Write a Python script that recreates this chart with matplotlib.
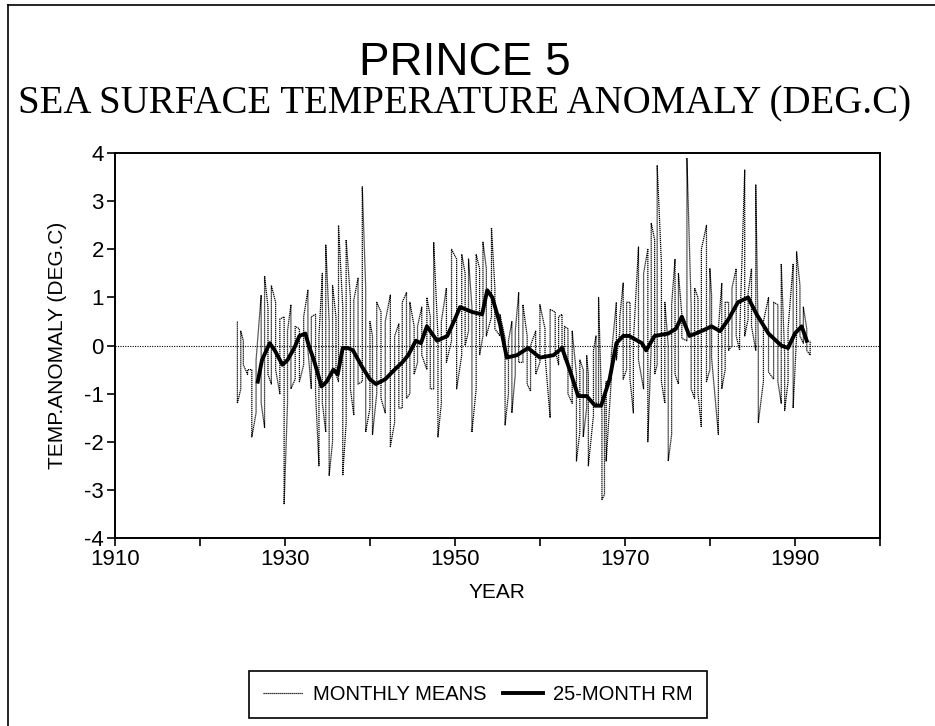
import numpy as np
import matplotlib
matplotlib.use("Agg")
import matplotlib.pyplot as plt
from matplotlib.lines import Line2D

plt.rcParams['font.family'] = ['Liberation Sans', 'DejaVu Sans']
plt.rcParams['axes.unicode_minus'] = False

# monthly means: year of each spike, its top and bottom value
mm_year = [1924.4, 1924.8, 1925.1, 1925.6, 1926.1, 1926.6, 1927.2, 1927.6, 1928.0, 1928.4,
           1928.9, 1929.4, 1929.9, 1930.3, 1930.7, 1931.2, 1931.7, 1932.2, 1932.7, 1933.1,
           1933.6, 1934.0, 1934.4, 1934.8, 1935.2, 1935.6, 1936.0, 1936.3, 1936.8, 1937.2,
           1937.7, 1938.1, 1938.6, 1939.1, 1939.5, 1940.0, 1940.3, 1940.8, 1941.3, 1941.8,
           1942.4, 1942.9, 1943.4, 1943.8, 1944.3, 1944.7, 1945.2, 1945.6, 1946.1, 1946.7,
           1947.1, 1947.5, 1948.0, 1948.4, 1949.0, 1949.6, 1950.2, 1950.8, 1951.2, 1951.6,
           1952.0, 1952.5, 1952.9, 1953.3, 1953.7, 1954.3, 1954.7, 1955.3, 1955.9, 1956.3,
           1956.7, 1957.1, 1957.5, 1958.0, 1958.5, 1958.9, 1959.5, 1960.0, 1960.6, 1961.2,
           1961.8, 1962.2, 1962.6, 1962.9, 1963.3, 1963.8, 1964.3, 1964.7, 1965.1, 1965.5,
           1965.7, 1966.3, 1966.6, 1966.9, 1967.3, 1967.6, 1967.8, 1968.4, 1969.0, 1969.4,
           1969.8, 1970.2, 1970.6, 1971.0, 1971.6, 1972.2, 1972.7, 1973.1, 1973.5, 1973.8,
           1974.3, 1974.7, 1975.1, 1975.5, 1975.9, 1976.3, 1976.7, 1977.3, 1977.8, 1978.2,
           1978.6, 1979.0, 1979.6, 1980.0, 1980.2, 1981.0, 1981.4, 1981.8, 1982.2, 1982.6,
           1983.1, 1983.5, 1984.1, 1984.5, 1984.9, 1985.4, 1985.7, 1986.3, 1986.9, 1987.5,
           1988.0, 1988.4, 1988.8, 1989.2, 1989.8, 1990.2, 1990.6, 1991.0, 1991.4, 1991.8]
mm_hi = [0.5, 0.3, 0.1, -0.5, -0.5, -0.3, 1.05, 1.45, 0.8, 1.25,
         0.9, 0.55, 0.6, 0.3, 0.85, 0.4, 0.35, 0.6, 1.15, 0.6,
         0.65, 0.2, 1.5, 2.1, 0.5, 1.25, 0.6, 2.5, 0.8, 2.2,
         1.0, 0.95, 1.4, 3.3, 1.2, 0.5, 0.2, 0.9, 0.7, 0.5,
         1.05, 0.2, 0.45, 0.9, 1.1, 0.9, 0.4, 0.4, 0.8, 1.0,
         0.6, 2.15, 0.2, 0.5, 1.2, 2.0, 1.8, 1.9, 1.5, 1.8,
         0.8, 1.9, 1.6, 2.15, 1.6, 2.45, 1.2, 0.65, 0.15, 0.1,
         0.5, 0.3, 1.1, 0.85, 0.2, 0.0, 0.3, 0.85, 0.35, 0.75,
         0.7, 0.6, 0.65, 0.4, 0.35, 0.3, -0.6, -0.3, -0.5, -0.2,
         -0.6, -0.1, 0.2, 1.0, -1.45, -1.2, -0.75, -0.2, 0.9, 0.6,
         1.3, 0.9, 0.9, 0.1, 2.05, 1.5, 2.0, 2.55, 2.2, 3.75,
         1.7, 0.9, 0.0, 0.85, 1.8, 1.5, 0.65, 3.9, 0.8, 1.2,
         1.0, 2.0, 2.5, 1.6, 1.05, 0.35, 1.3, 0.9, 0.9, 1.2,
         1.6, 0.2, 3.65, 1.1, 1.6, 3.35, 0.0, 0.5, 1.0, 0.9,
         0.85, 1.7, -0.2, 0.35, 1.7, 1.95, 1.25, 0.8, 0.35, 0.1]
mm_lo = [-1.2, -0.9, -0.4, -0.6, -1.9, -1.4, -1.2, -1.7, -0.6, -0.8,
         -0.5, -1.0, -3.3, -1.2, -0.9, -0.7, -0.75, -0.4, -0.1, -0.9,
         -1.0, -2.5, -1.2, -1.8, -2.7, -2.0, -0.6, -0.75, -2.7, -1.6,
         -0.9, -1.45, -0.8, -0.75, -1.8, -1.3, -1.85, -1.0, -1.1, -1.4,
         -2.1, -1.6, -1.3, -1.3, -1.1, -1.0, -0.6, -0.35, -0.2, -0.5,
         -0.9, -0.9, -1.9, -1.2, -0.35, 0.1, -0.9, -0.2, 0.0, 0.3,
         -1.8, -0.9, -0.2, 0.2, 0.2, 0.6, 0.35, 0.2, -1.65, -1.0,
         -1.4, -0.6, -0.35, -0.35, -0.8, -0.95, -0.6, -0.35, -0.2, -1.5,
         -0.1, -0.4, 0.0, -0.3, -1.0, -1.2, -2.4, -1.8, -1.9, -1.3,
         -2.5, -1.45, -1.2, -1.2, -3.2, -3.1, -2.4, -0.7, -0.3, 0.3,
         -0.7, -0.5, -0.7, -1.4, -0.3, -0.9, -2.0, 0.0, -0.6, -0.4,
         -0.75, -1.2, -2.4, -1.85, -0.6, -0.8, 0.15, 0.1, -0.9, -1.1,
         -1.0, -1.7, -0.75, -0.5, -0.25, -1.85, -0.9, -0.5, -0.1, 0.0,
         0.2, -0.1, 0.2, 0.55, 0.4, -0.1, -1.6, -0.75, -0.55, -0.7,
         -0.75, -1.2, -1.35, -0.75, -1.3, 0.2, 0.2, 0.05, -0.1, -0.2]

# 25-month running mean
rm_year = [1926.8, 1927.3, 1928.2, 1928.8, 1929.7, 1930.3, 1931.1, 1931.7, 1932.4, 1932.8,
           1933.4, 1934.3, 1934.9, 1935.7, 1936.2, 1936.8, 1937.4, 1938.0, 1939.1, 1940.0,
           1940.7, 1941.8, 1942.9, 1943.8, 1944.5, 1945.4, 1946.0, 1946.7, 1947.9, 1949.1,
           1950.0, 1950.6, 1952.0, 1953.2, 1953.8, 1954.4, 1955.3, 1956.1, 1957.3, 1958.6,
           1960.0, 1961.6, 1962.6, 1963.5, 1964.5, 1965.5, 1966.5, 1967.2, 1968.2, 1969.0,
           1969.8, 1970.5, 1972.0, 1972.5, 1973.5, 1975.1, 1976.0, 1976.7, 1977.6, 1979.0,
           1980.2, 1981.2, 1982.2, 1983.3, 1984.5, 1985.5, 1986.9, 1988.4, 1989.2, 1990.0,
           1990.8, 1991.4]
rm_val = [-0.75, -0.3, 0.05, -0.1, -0.4, -0.3, -0.05, 0.2, 0.25, 0.0,
          -0.3, -0.85, -0.75, -0.5, -0.6, -0.05, -0.05, -0.1, -0.45, -0.7,
          -0.8, -0.7, -0.5, -0.35, -0.2, 0.1, 0.05, 0.4, 0.1, 0.2,
          0.55, 0.8, 0.7, 0.65, 1.15, 1.0, 0.45, -0.25, -0.2, -0.05,
          -0.25, -0.2, -0.05, -0.5, -1.05, -1.05, -1.25, -1.25, -0.7, 0.05,
          0.2, 0.2, 0.05, -0.1, 0.2, 0.25, 0.35, 0.6, 0.2, 0.3,
          0.4, 0.3, 0.55, 0.9, 1.0, 0.65, 0.25, 0.0, -0.05, 0.25,
          0.4, 0.1]

year_ticks = list(range(1910, 2001, 10))
year_labels = ['1910', '', '1930', '', '1950', '', '1970', '', '1990', '']

# zig-zag path through top/bottom of each spike
xs, ys = [], []
for i, yr in enumerate(mm_year):
    pair = (mm_hi[i], mm_lo[i]) if i % 2 == 0 else (mm_lo[i], mm_hi[i])
    xs += [yr, yr]
    ys += list(pair)

fig = plt.figure(figsize=(9.35, 7.26), dpi=100)
ax = fig.add_axes([0.123, 0.259, 0.818, 0.530])

ax.axhline(0, color='black', lw=0.8, ls=(0, (1, 1.2)))
ax.plot(xs, ys, color='black', lw=0.9, ls=(0, (1, 0.6)), label='MONTHLY MEANS')
ax.plot(rm_year, rm_val, color='black', lw=2.8, label='25-MONTH RM')

ax.set_xlim(1910, 2000)
ax.set_ylim(-4, 4)
ax.set_xticks(year_ticks)
ax.set_xticklabels(year_labels)
ax.set_yticks(range(-4, 5))
ax.tick_params(direction='out', length=6, width=1.2, labelsize=16, pad=2)
for s in ax.spines.values():
    s.set_linewidth(1.4)

ax.set_xlabel('YEAR', fontsize=15, labelpad=9)
ax.set_ylabel('TEMP.ANOMALY (DEG.C)', fontsize=15, labelpad=12)

fig.text(0.497, 0.913, 'PRINCE 5', ha='center', va='center', fontsize=33)
fig.text(0.497, 0.857, 'SEA SURFACE TEMPERATURE ANOMALY (DEG.C)', ha='center', va='center',
         fontsize=28, family='Liberation Serif')

fig.legend(loc='center', bbox_to_anchor=(0.511, 0.043), ncol=2, fontsize=14.5,
           frameon=True, fancybox=False, edgecolor='black', framealpha=1,
           handlelength=2.0, columnspacing=0.8, handletextpad=0.5,
           borderpad=0.7, borderaxespad=0.8).get_frame().set_linewidth(1.2)

# page border from the scan
fig.add_artist(Line2D([0.009, 0.009], [0, 0.993], color='black', lw=1.2))
fig.add_artist(Line2D([0.009, 1.0], [0.993, 0.993], color='black', lw=1.2))

fig.savefig('out.png', dpi=100)
